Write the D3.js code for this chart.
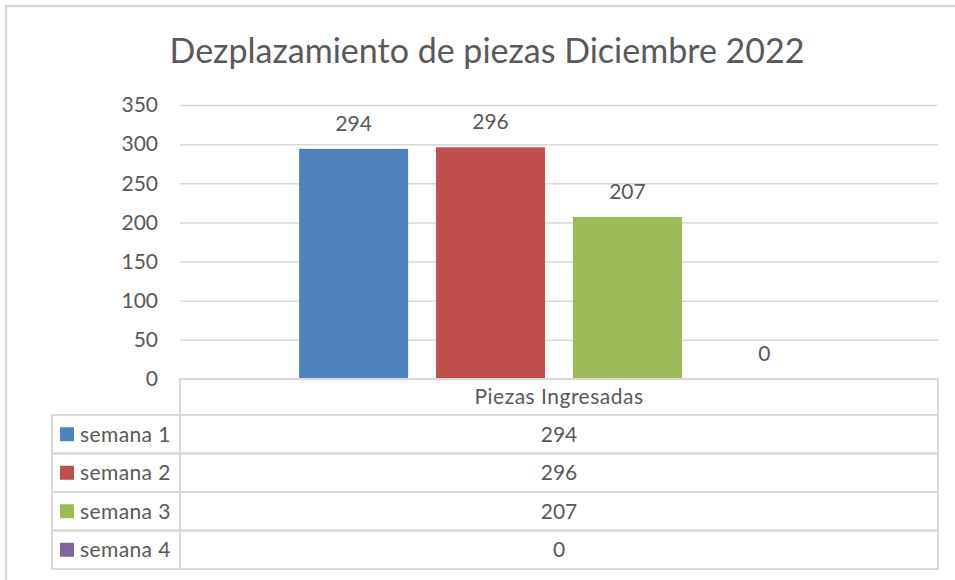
<!DOCTYPE html>
<html>
<head>
<meta charset="utf-8">
<script src="https://cdn.jsdelivr.net/npm/d3@7"></script>
<style>
  body { margin: 0; background: #fff; }
  svg { display: block; font-family: Lato, "Open Sans", sans-serif; }
</style>
</head>
<body>
<div id="chart"></div>
<script>
/* DATA */
const title = "Dezplazamiento de piezas Diciembre 2022";
const category = "Piezas Ingresadas";
const series = ["semana 1", "semana 2", "semana 3", "semana 4"];
const values = [294, 296, 207, 0];
const colors = ["#4F81BD", "#C0504D", "#9BBB59", "#8064A2"];
const yTicks = [0, 50, 100, 150, 200, 250, 300, 350];

/* CONSTANTS */
const width = 955,
  height = 580,
  plot = { left: 180, right: 938, top: 105, bottom: 379 },
  tableLeft = 52,
  rowH = 38.5,
  headerH = 36,
  fontSize = 21,
  textColor = "#595959",
  gridColor = "#D9D9D9";

const svg = d3.select("#chart")
  .append("svg")
  .attr("width", width)
  .attr("height", height);

// outer frame of the chart (runs off the right and bottom)
svg.append("path")
  .attr("d", `M6,${height + 5} V6 H${width + 5}`)
  .attr("fill", "none")
  .attr("stroke", gridColor)
  .attr("stroke-width", 2.5);

// title
svg.append("text")
  .attr("x", 487)
  .attr("y", 63)
  .attr("text-anchor", "middle")
  .attr("font-size", 34)
  .attr("fill", textColor)
  .text(title);

/* SCALES */
const yScale = d3.scaleLinear()
  .domain([0, 350])
  .range([plot.bottom, plot.top]);

const xScale = d3.scaleBand()
  .domain(series)
  .range([plot.left, plot.right])
  .paddingInner(0.204)
  .paddingOuter(0.87);

// gridlines + y labels
const yAxis = d3.axisLeft(yScale)
  .tickValues(yTicks)
  .tickSize(-(plot.right - plot.left))
  .tickPadding(22);

svg.append("g")
  .attr("class", "yAxis")
  .attr("transform", `translate(${plot.left}, 0)`)
  .call(yAxis)
  .call(g => g.select(".domain").remove())
  .call(g => g.selectAll(".tick line").attr("stroke", gridColor).attr("stroke-width", 1.5))
  .call(g => g.selectAll(".tick text")
    .attr("fill", textColor)
    .attr("font-size", fontSize)
    .attr("font-family", "Lato, sans-serif"));

// bars
svg.selectAll("rect.bar")
  .data(series)
  .join("rect")
  .attr("class", "bar")
  .attr("x", d => xScale(d))
  .attr("width", xScale.bandwidth())
  .attr("y", (d, i) => yScale(values[i]))
  .attr("height", (d, i) => yScale(0) - yScale(values[i]))
  .attr("fill", (d, i) => colors[i]);

// value labels
svg.selectAll("text.val")
  .data(series)
  .join("text")
  .attr("class", "val")
  .attr("x", d => xScale(d) + xScale.bandwidth() / 2)
  .attr("y", (d, i) => yScale(values[i]) - 18)
  .attr("text-anchor", "middle")
  .attr("font-size", fontSize)
  .attr("fill", textColor)
  .text((d, i) => values[i]);

/* DATA TABLE */
const tableTop = plot.bottom;
const rowsTop = tableTop + headerH;
const tableBottom = rowsTop + rowH * series.length;
const table = svg.append("g")
  .attr("fill", "none")
  .attr("stroke", gridColor)
  .attr("stroke-width", 2);

// header cell
table.append("path")
  .attr("d", `M${plot.left},${tableBottom} V${tableTop} H${plot.right} V${tableBottom}`);
// row boxes
series.forEach((s, i) => {
  table.append("rect")
    .attr("x", tableLeft)
    .attr("y", rowsTop + i * rowH)
    .attr("width", plot.right - tableLeft)
    .attr("height", rowH);
});

svg.append("text")
  .attr("x", (plot.left + plot.right) / 2)
  .attr("y", tableTop + headerH / 2)
  .attr("dy", "0.35em")
  .attr("text-anchor", "middle")
  .attr("font-size", fontSize)
  .attr("letter-spacing", 0.5)
  .attr("fill", textColor)
  .text(category);

const rows = svg.selectAll("g.row")
  .data(series)
  .join("g")
  .attr("class", "row")
  .attr("transform", (d, i) => `translate(0, ${rowsTop + i * rowH + rowH / 2})`);

rows.append("rect")
  .attr("x", 60)
  .attr("y", -7)
  .attr("width", 14)
  .attr("height", 14)
  .attr("fill", (d, i) => colors[i]);

rows.append("text")
  .attr("x", 80)
  .attr("dy", "0.35em")
  .attr("font-size", fontSize)
  .attr("letter-spacing", 0.4)
  .attr("fill", textColor)
  .text(d => d);

rows.append("text")
  .attr("x", (plot.left + plot.right) / 2)
  .attr("dy", "0.35em")
  .attr("text-anchor", "middle")
  .attr("font-size", fontSize)
  .attr("fill", textColor)
  .text((d, i) => values[i]);
</script>
</body>
</html>
